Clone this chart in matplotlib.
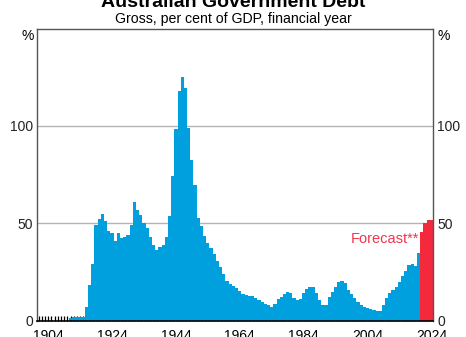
import matplotlib
matplotlib.use("Agg")
import matplotlib.pyplot as plt
import numpy as np

plt.rcParams['font.family'] = ['Liberation Sans', 'DejaVu Sans']

years = list(range(1901, 2025))
debt = [
    # 1901-1910
    0, 0, 0, 0, 0, 0, 0, 0, 0, 0,
    # 1911-1920
    1.5, 2, 2, 2, 2, 6.8, 18.3, 29, 49, 52,
    # 1921-1930
    54.7, 51.3, 46.2, 45.2, 41.1, 44.9, 42.3, 42.8, 44.0, 49.1,
    # 1931-1940
    61.1, 56.8, 54.3, 50.3, 47.4, 43.0, 38.8, 36.5, 38.0, 38.8,
    # 1941-1950
    43.1, 53.8, 74.3, 98.3, 118.1, 125.3, 119.7, 99.1, 82.5, 69.7,
    # 1951-1960
    52.7, 48.8, 43.5, 40.0, 37.2, 34.2, 30.5, 27.4, 24.0, 20.5,
    # 1961-1970
    18.6, 17.8, 16.6, 15.2, 13.7, 13.2, 12.4, 12.6, 11.5, 10.4,
    # 1971-1980
    9.4, 8.5, 7.9, 6.8, 8.5, 10.9, 12.0, 13.7, 14.9, 14.0,
    # 1981-1990
    11.8, 10.6, 11.3, 14.0, 16.1, 17.3, 17.1, 14.0, 10.6, 7.9,
    # 1991-2000
    8.0, 12.0, 14.9, 17.4, 19.8, 20.3, 19.3, 15.7, 13.5, 11.5,
    # 2001-2010
    9.7, 8.2, 6.9, 6.3, 6.0, 5.5, 5.1, 5.0, 8.0, 11.8,
    # 2011-2020
    14.0, 15.7, 17.1, 20.0, 22.8, 25.5, 28.5, 29.1, 28.1, 34.8,
    # 2021-2024 (forecast)
    45.3, 50.4, 51.6, 51.7,
]
forecast_start = 2021

xtick_years = [1904, 1924, 1944, 1964, 1984, 2004, 2024]
ytick_vals = [0, 50, 100]

title = "Australian Government Debt"
subtitle = "Gross, per cent of GDP, financial year"
forecast_label = "Forecast**"

BLUE = "#00A0DE"
RED = "#F42A3C"
RED_TEXT = "#F0364C"

fig = plt.figure(figsize=(4.66, 3.37), dpi=100)
ax = fig.add_axes([37/466, 1-320.6/337, 396/466, (320.6-28.7)/337])

yrs = np.array(years)
vals = np.array(debt)
hist = yrs < forecast_start
ax.bar(yrs[hist], vals[hist], width=1.0, color=BLUE, linewidth=0, zorder=2)
ax.bar(yrs[~hist], vals[~hist], width=1.0, color=RED, linewidth=0, zorder=2)

ax.set_xlim(1900.5, 2024.5)
ax.set_ylim(0, 150)

for v in [50, 100]:
    ax.axhline(v, color="#B4B4B4", linewidth=1.0, zorder=1)

ax.set_xticks(xtick_years)
ax.set_xticks(years, minor=True)
ax.tick_params(axis='x', which='both', direction='in', length=3.8, width=0.9,
               color='black', labelsize=10, pad=6, bottom=True, top=False, zorder=5)
ax.set_yticks(ytick_vals)
ax.tick_params(axis='y', which='both', length=0, labelsize=10, pad=3,
               left=True, right=True, labelleft=True, labelright=True)
for lab in ax.get_yticklabels():
    lab.set_color('#222222')

for s in ['left', 'right', 'top']:
    ax.spines[s].set_color('#555555')
    ax.spines[s].set_linewidth(1.0)
ax.spines['bottom'].set_color('black')
ax.spines['bottom'].set_linewidth(1.2)
for s in ax.spines.values():
    s.set_zorder(6)

ax.text(2020.3, 40, forecast_label, color=RED_TEXT, fontsize=10.5,
        ha='right', va='baseline', zorder=4)

fig.text(0.5, 1-7/337, title, ha='center', va='baseline', fontsize=14,
         fontweight='bold')
fig.text(0.5, 1-22.5/337, subtitle, ha='center', va='baseline', fontsize=10.2)
fig.text(28/466, 1-36/337, "%", ha='center', va='center', fontsize=10)
fig.text(444/466, 1-36/337, "%", ha='center', va='center', fontsize=10)

fig.savefig("out.png", dpi=100)
